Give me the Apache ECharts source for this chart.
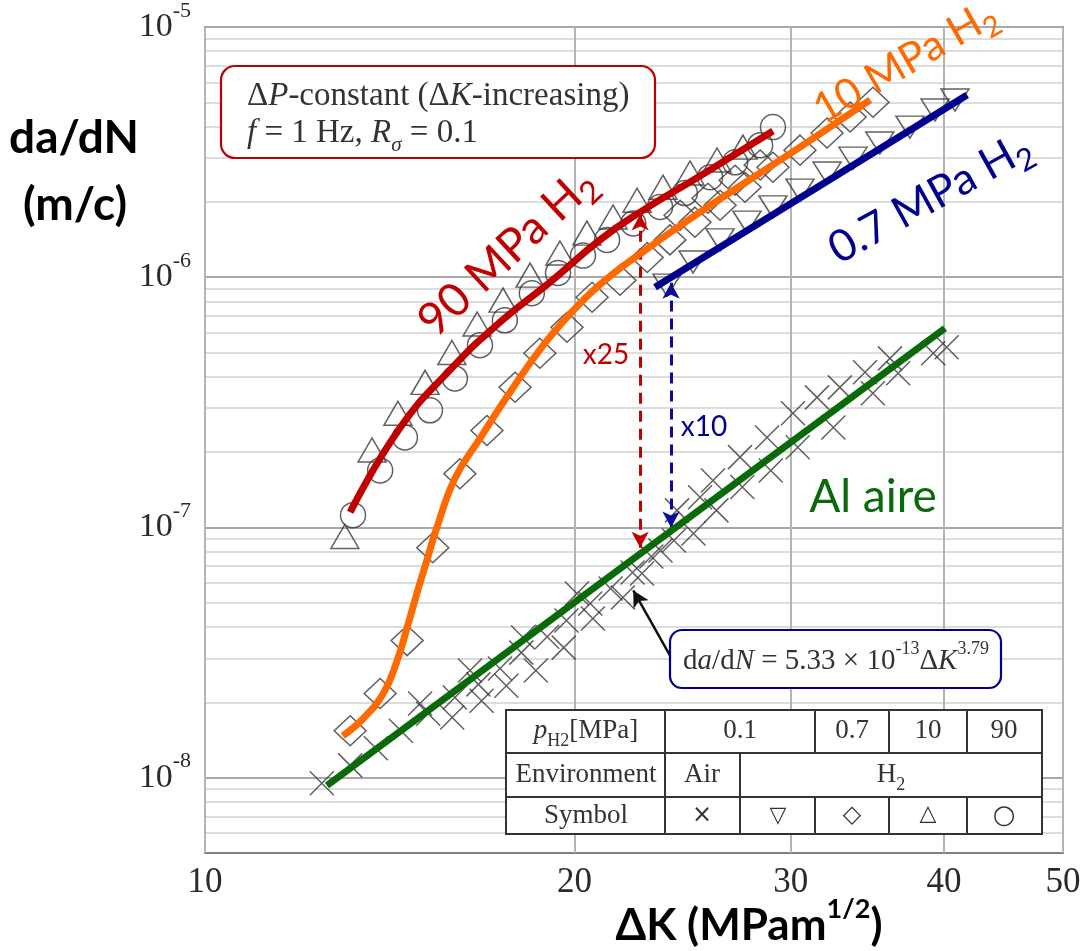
<!DOCTYPE html>
<html>
<head>
<meta charset="utf-8">
<script src="https://cdn.jsdelivr.net/npm/echarts@6/dist/echarts.min.js"></script>
<style>
  html, body { margin: 0; padding: 0; background: #fff; }
  #chart { width: 1089px; height: 951px; }
</style>
</head>
<body>
<div id="chart"></div>
<script>
// ΔK (MPa m^1/2) / da/dN (m/cycle)

// × : air
const airK = [12.45, 13.13, 13.78, 14.44, 15.2, 15.98, 16.7, 17.39, 18.1, 19.0, 19.7, 20.6, 21.4, 22.3, 23.1, 24.1,
  24.24, 25.31, 25.93, 27.28, 28.7, 30.13, 31.52, 32.9, 34.49, 36.14,
  15.9, 16.8, 17.6, 18.6, 19.6, 20.7, 21.9, 22.7, 23.5, 25.0, 26.1, 27.4, 28.9, 30.4, 32.5, 35.0, 36.7, 39.2, 40.2,
  14.97, 16.44, 18.16, 20.09];
const airRate = [9.5e-9, 1.12e-8, 1.31e-8, 1.54e-8, 1.8e-8, 2.09e-8, 2.36e-8, 2.73e-8, 3.16e-8, 3.66e-8, 4.25e-8, 4.97e-8, 5.7e-8, 6.61e-8, 7.66e-8, 8.87e-8,
  1.17e-7, 1.32e-7, 1.54e-7, 1.91e-7, 2.29e-7, 2.86e-7, 3.31e-7, 3.63e-7, 4.17e-7, 4.74e-7,
  1.74e-8, 2.03e-8, 2.33e-8, 2.68e-8, 3.31e-8, 4.33e-8, 5.25e-8, 6.55e-8, 8.09e-8, 9.46e-8, 1.17e-7, 1.45e-7, 1.69e-7, 2.09e-7, 2.51e-7, 3.44e-7, 4.13e-7, 4.97e-7, 5.25e-7,
  1.98e-8, 2.68e-8, 3.63e-8, 5.45e-8];

// ▽
const invTriK = [23.79, 24.98, 26.28, 27.64, 29.02, 30.53, 32.12, 33.72, 35.46, 37.52, 39.33, 40.83];
const invTriRate = [9.3e-7, 1.15e-6, 1.41e-6, 1.66e-6, 1.91e-6, 2.23e-6, 2.61e-6, 2.99e-6, 3.44e-6, 3.98e-6, 4.66e-6, 5.11e-6];

// ◇
const diamK = [13.13, 13.89, 14.61, 15.33, 16.13, 16.97, 17.89, 18.74, 19.72, 20.67, 21.78, 22.92, 23.92, 25.07, 26.28, 27.54, 29.02, 30.53, 32.12, 33.54, 35.01,
  24.38, 25.69, 27.03, 28.33];
const diamRate = [1.54e-8, 2.17e-8, 3.53e-8, 8.3e-8, 1.64e-7, 2.44e-7, 3.63e-7, 4.97e-7, 6.31e-7, 8.32e-7, 9.73e-7, 1.2e-6, 1.41e-6, 1.66e-6, 1.94e-6, 2.29e-6, 2.75e-6, 3.22e-6, 3.77e-6, 4.37e-6, 5.0e-6,
  1.77e-6, 2.07e-6, 2.44e-6, 2.81e-6];

// △
const triK = [13.0, 13.68, 14.36, 15.11, 15.89, 16.66, 17.49, 18.4, 19.46, 20.47, 21.5, 22.49, 23.61, 24.84, 26.13, 27.43];
const triRate = [9.2e-8, 2.04e-7, 2.86e-7, 3.8e-7, 5.0e-7, 6.5e-7, 8.1e-7, 1.02e-6, 1.25e-6, 1.5e-6, 1.74e-6, 2.03e-6, 2.29e-6, 2.61e-6, 2.94e-6, 3.31e-6];

// ○
const circK = [13.2, 13.89, 14.55, 15.25, 15.98, 16.75, 17.55, 18.46, 19.39, 20.32, 21.26, 22.33, 23.48, 24.6, 25.79, 27.03, 28.33, 29.02];
const circRate = [1.12e-7, 1.69e-7, 2.29e-7, 2.94e-7, 3.94e-7, 5.35e-7, 6.73e-7, 8.63e-7, 1.04e-6, 1.22e-6, 1.41e-6, 1.64e-6, 1.91e-6, 2.17e-6, 2.51e-6, 2.88e-6, 3.37e-6, 3.98e-6];

// hand-drawn trend lines
const fit90K = [13.13, 14.41, 15.83, 17.39, 19.1, 20.98, 22.62, 25.31, 29.02];
const fit90Rate = [1.15e-7, 2.49e-7, 4.25e-7, 6.61e-7, 9.55e-7, 1.41e-6, 1.82e-6, 2.54e-6, 3.84e-6];
const fit10K = [12.95, 13.45, 13.97, 14.34, 14.61, 14.88, 15.16, 15.45, 15.98, 16.75, 17.72, 18.92, 20.21, 21.38, 22.62, 25.31, 30.53, 34.83];
const fit10Rate = [1.47e-8, 1.72e-8, 2.17e-8, 2.94e-8, 3.98e-8, 5.45e-8, 7.38e-8, 1.0e-7, 1.57e-7, 2.27e-7, 3.47e-7, 5.45e-7, 7.87e-7, 1.01e-6, 1.24e-6, 1.82e-6, 3.31e-6, 5.11e-6];
const fit07K = [23.26, 41.77];
const fit07Rate = [9.12e-7, 5.35e-6];
const fitAirK = [12.57, 40.07];
const fitAirRate = [9.3e-9, 6.25e-7];

// axis ticks and grid
const xTicks = [10, 20, 30, 40, 50];
const yTicks = [1e-8, 1e-7, 1e-6, 1e-5];
const yGrid = [6e-9, 7e-9, 8e-9, 9e-9,
  1e-8, 2e-8, 3e-8, 4e-8, 5e-8, 6e-8, 7e-8, 8e-8, 9e-8,
  1e-7, 2e-7, 3e-7, 4e-7, 5e-7, 6e-7, 7e-7, 8e-7, 9e-7,
  1e-6, 2e-6, 3e-6, 4e-6, 5e-6, 6e-6, 7e-6, 8e-6, 9e-6, 1e-5];

const RED = '#c00000', ORANGE = '#ff6a00', BLUE = '#00008f', GREEN = '#0a6a0a';
const SERIF = 'Liberation Serif';
const SANS = 'Lato';

function pts(xs, ys) { return xs.map((x, i) => [x, ys[i]]); }

const hollow = { color: 'none', borderColor: '#383838', borderWidth: 1.5 };

function rotLabel(x, y, deg, text, size, color) {
  const sub = Math.round(size * 0.7);
  return {
    type: 'text', x: x, y: y, rotation: deg * Math.PI / 180, z: 30,
    style: {
      text: text, align: 'center', verticalAlign: 'middle',
      rich: {
        n: { fontFamily: SANS, fontSize: size, fill: color, lineHeight: size + 14 },
        sb: { fontFamily: SANS, fontSize: sub, fill: color, lineHeight: sub, verticalAlign: 'bottom' }
      }
    }
  };
}

function plainText(x, y, text, size, color, family, align, extra) {
  return {
    type: 'text', x: x, y: y, z: 30,
    style: Object.assign({ text: text, fontSize: size, fontFamily: family, fill: color, align: align || 'center', verticalAlign: 'middle' }, extra || {})
  };
}

const serifRich = (size, color) => ({
  n: { fontFamily: SERIF, fontSize: size, fill: color, lineHeight: size + 12 },
  i: { fontFamily: SERIF, fontStyle: 'italic', fontSize: size, fill: color, lineHeight: size + 12 },
  sb: { fontFamily: SERIF, fontStyle: 'italic', fontSize: Math.round(size * 0.65), fill: color, lineHeight: Math.round(size * 0.65), verticalAlign: 'bottom' },
  sbn: { fontFamily: SERIF, fontSize: Math.round(size * 0.65), fill: color, lineHeight: Math.round(size * 0.65), verticalAlign: 'bottom' },
  sp: { fontFamily: SERIF, fontSize: Math.round(size * 0.62), fill: color, lineHeight: Math.round(size * 0.62), verticalAlign: 'top' }
});

// table drawn on top of the plot
const tCol = [506, 665, 740, 815, 889, 967, 1042];
const tRow = [710, 753, 797, 834];
const TS = 27;
function tLine(x1, y1, x2, y2) {
  return { type: 'line', shape: { x1: x1, y1: y1, x2: x2, y2: y2 }, style: { stroke: '#333', lineWidth: 2 }, z: 21 };
}
const tableEls = [
  { type: 'rect', shape: { x: tCol[0], y: tRow[0], width: tCol[6] - tCol[0], height: tRow[3] - tRow[0] }, style: { fill: '#fff', stroke: '#333', lineWidth: 2 }, z: 20 },
  tLine(tCol[0], tRow[1], tCol[6], tRow[1]),
  tLine(tCol[0], tRow[2], tCol[6], tRow[2]),
  tLine(tCol[1], tRow[0], tCol[1], tRow[3]),
  tLine(tCol[2], tRow[1], tCol[2], tRow[3]),
  tLine(tCol[3], tRow[0], tCol[3], tRow[1]),
  tLine(tCol[3], tRow[2], tCol[3], tRow[3]),
  tLine(tCol[4], tRow[0], tCol[4], tRow[1]),
  tLine(tCol[4], tRow[2], tCol[4], tRow[3]),
  tLine(tCol[5], tRow[0], tCol[5], tRow[1]),
  tLine(tCol[5], tRow[2], tCol[5], tRow[3]),
  { type: 'text', x: 586, y: 731, z: 22, style: { text: '{i|p}{sbn|H2}{n|[MPa]}', rich: serifRich(TS, '#333'), align: 'center', verticalAlign: 'middle' } },
  plainText(740, 731, '0.1', TS, '#333', SERIF),
  plainText(852, 731, '0.7', TS, '#333', SERIF),
  plainText(928, 731, '10', TS, '#333', SERIF),
  plainText(1004, 731, '90', TS, '#333', SERIF),
  plainText(586, 775, 'Environment', TS, '#333', SERIF),
  plainText(702, 775, 'Air', TS, '#333', SERIF),
  { type: 'text', x: 891, y: 775, z: 22, style: { text: '{n|H}{sbn|2}', rich: serifRich(TS, '#333'), align: 'center', verticalAlign: 'middle' } },
  plainText(586, 816, 'Symbol', TS, '#333', SERIF),
  plainText(702, 816, '×', 24, '#333', 'DejaVu Sans'),
  plainText(778, 816, '▽', 22, '#333', 'DejaVu Sans'),
  plainText(852, 816, '◇', 24, '#333', 'DejaVu Sans'),
  plainText(928, 814, '△', 22, '#333', 'DejaVu Sans'),
  plainText(1004, 816, '○', 26, '#333', 'DejaVu Sans')
];
tableEls.forEach(e => { if (e.z === 30) e.z = 22; });

const option = {
  animation: false,
  backgroundColor: '#fff',
  grid: { left: 205, right: 26, top: 27, bottom: 98, show: true, borderColor: '#808080', borderWidth: 2, backgroundColor: 'transparent' },
  xAxis: {
    type: 'log', logBase: 10, min: 10, max: 50,
    axisLine: { show: false },
    axisTick: { show: false, customValues: xTicks },
    splitLine: { show: true, lineStyle: { color: '#b4b4b4', width: 2 } },
    axisLabel: { customValues: xTicks, margin: 12, fontFamily: SERIF, fontSize: 35, color: '#2a2a2a' }
  },
  yAxis: {
    type: 'log', logBase: 10, min: 5e-9, max: 1e-5,
    axisLine: { show: false },
    axisTick: { show: false, customValues: yGrid },
    splitLine: {
      show: true,
      lineStyle: {
        color: yGrid.map(v => Math.abs(Math.log10(v) - Math.round(Math.log10(v))) < 1e-6 ? '#a8a8a8' : '#dcdcdc'),
        width: 2
      }
    },
    axisLabel: {
      customValues: yTicks, margin: 14,
      formatter: v => '{b|10}{s|' + Math.round(Math.log10(v)) + '}',
      rich: {
        b: { fontFamily: SERIF, fontSize: 34, color: '#2a2a2a', lineHeight: 54 },
        s: { fontFamily: SERIF, fontSize: 22, color: '#2a2a2a', lineHeight: 22, verticalAlign: 'top' }
      }
    }
  },
  series: [
    { type: 'scatter', name: 'air', data: pts(airK, airRate), symbol: 'path://M0,0L10,10M10,0L0,10', symbolSize: 24, itemStyle: hollow, z: 2 },
    { type: 'scatter', name: '0.1 H2', data: pts(invTriK, invTriRate), symbol: 'triangle', symbolRotate: 180, symbolSize: [28, 22], itemStyle: hollow, z: 2 },
    { type: 'scatter', name: '0.7 H2', data: pts(diamK, diamRate), symbol: 'diamond', symbolSize: [32, 30], itemStyle: hollow, z: 2 },
    { type: 'scatter', name: '10 H2', data: pts(triK, triRate), symbol: 'triangle', symbolSize: [28, 24], itemStyle: hollow, z: 2 },
    { type: 'scatter', name: '90 H2', data: pts(circK, circRate), symbol: 'circle', symbolSize: 25, itemStyle: hollow, z: 2 },
    { type: 'line', data: pts(fit90K, fit90Rate), smooth: 0.5, symbol: 'none', lineStyle: { color: RED, width: 7 }, z: 5 },
    { type: 'line', data: pts(fit10K, fit10Rate), smooth: 0.45, symbol: 'none', lineStyle: { color: ORANGE, width: 7 }, z: 5 },
    { type: 'line', data: pts(fit07K, fit07Rate), symbol: 'none', lineStyle: { color: BLUE, width: 7 }, z: 5 },
    {
      type: 'line', data: pts(fitAirK, fitAirRate), symbol: 'none', lineStyle: { color: GREEN, width: 7 }, z: 5,
      markLine: {
        silent: true, animation: false, symbol: ['arrow', 'arrow'], symbolSize: [13, 16], label: { show: false },
        emphasis: { disabled: true },
        data: [
          [{ coord: [22.62, 8.3e-8], lineStyle: { color: RED, type: [11, 7], width: 3 } }, { coord: [22.62, 1.78e-6] }],
          [{ coord: [23.97, 1.0e-7], lineStyle: { color: '#0a0aa0', type: [11, 7], width: 3 } }, { coord: [23.97, 9.5e-7] }],
          [{ coord: [23.92, 3.08e-8], symbol: 'none', lineStyle: { color: '#111', type: 'solid', width: 2.5 } }, { coord: [22.33, 5.6e-8], symbol: 'arrow' }]
        ]
      }
    }
  ],
  graphic: [
    // red condition box
    { type: 'rect', shape: { x: 221, y: 66, width: 434, height: 92, r: 14 }, style: { fill: '#fff', stroke: RED, lineWidth: 2.2 }, z: 20 },
    { type: 'text', x: 247, y: 96, z: 22, style: { text: '{n|Δ}{i|P}{n|-constant (Δ}{i|K}{n|-increasing)}', rich: serifRich(33, '#333'), align: 'left', verticalAlign: 'middle' } },
    { type: 'text', x: 247, y: 133, z: 22, style: { text: '{i|f}{n| = 1 Hz, }{i|R}{sb|σ}{n| = 0.1}', rich: serifRich(33, '#333'), align: 'left', verticalAlign: 'middle' } },
    // blue equation box
    { type: 'rect', shape: { x: 670, y: 630, width: 331, height: 58, r: 12 }, style: { fill: '#fff', stroke: BLUE, lineWidth: 2.2 }, z: 20 },
    { type: 'text', x: 836, y: 661, z: 22, style: { text: '{n|d}{i|a}{n|/d}{i|N}{n| = 5.33 × 10}{sp|-13}{n|Δ}{i|K}{sp|3.79}', rich: serifRich(29, '#333'), align: 'center', verticalAlign: 'middle' } },
    ...tableEls,
    // curve labels
    rotLabel(507, 252, 43, '{n|90 MPa H}{sb|2}', 46, RED),
    rotLabel(905, 62, 30, '{n|10 MPa H}{sb|2}', 42, ORANGE),
    rotLabel(930, 198, 29, '{n|0.7 MPa H}{sb|2}', 44, BLUE),
    plainText(606, 355, 'x25', 28, RED, SANS),
    plainText(704, 427, 'x10', 28, BLUE, SANS),
    plainText(873, 497, 'Al aire', 46, GREEN, SANS),
    // axis titles
    plainText(74, 138, 'da/dN', 46, '#000', SANS, 'center', { fontWeight: 'bold' }),
    plainText(75, 205, '(m/c)', 46, '#000', SANS, 'center', { fontWeight: 'bold' }),
    {
      type: 'text', x: 749, y: 926, z: 30,
      style: {
        text: '{n|ΔK (MPam}{s|1/2}{n|)}', align: 'center', verticalAlign: 'middle',
        rich: {
          n: { fontFamily: SANS, fontWeight: 'bold', fontSize: 44, fill: '#000', lineHeight: 60 },
          s: { fontFamily: SANS, fontWeight: 'bold', fontSize: 27, fill: '#000', lineHeight: 27, verticalAlign: 'top' }
        }
      }
    }
  ]
};

const myChart = echarts.init(document.getElementById('chart'));
myChart.setOption(option);
</script>
</body>
</html>
